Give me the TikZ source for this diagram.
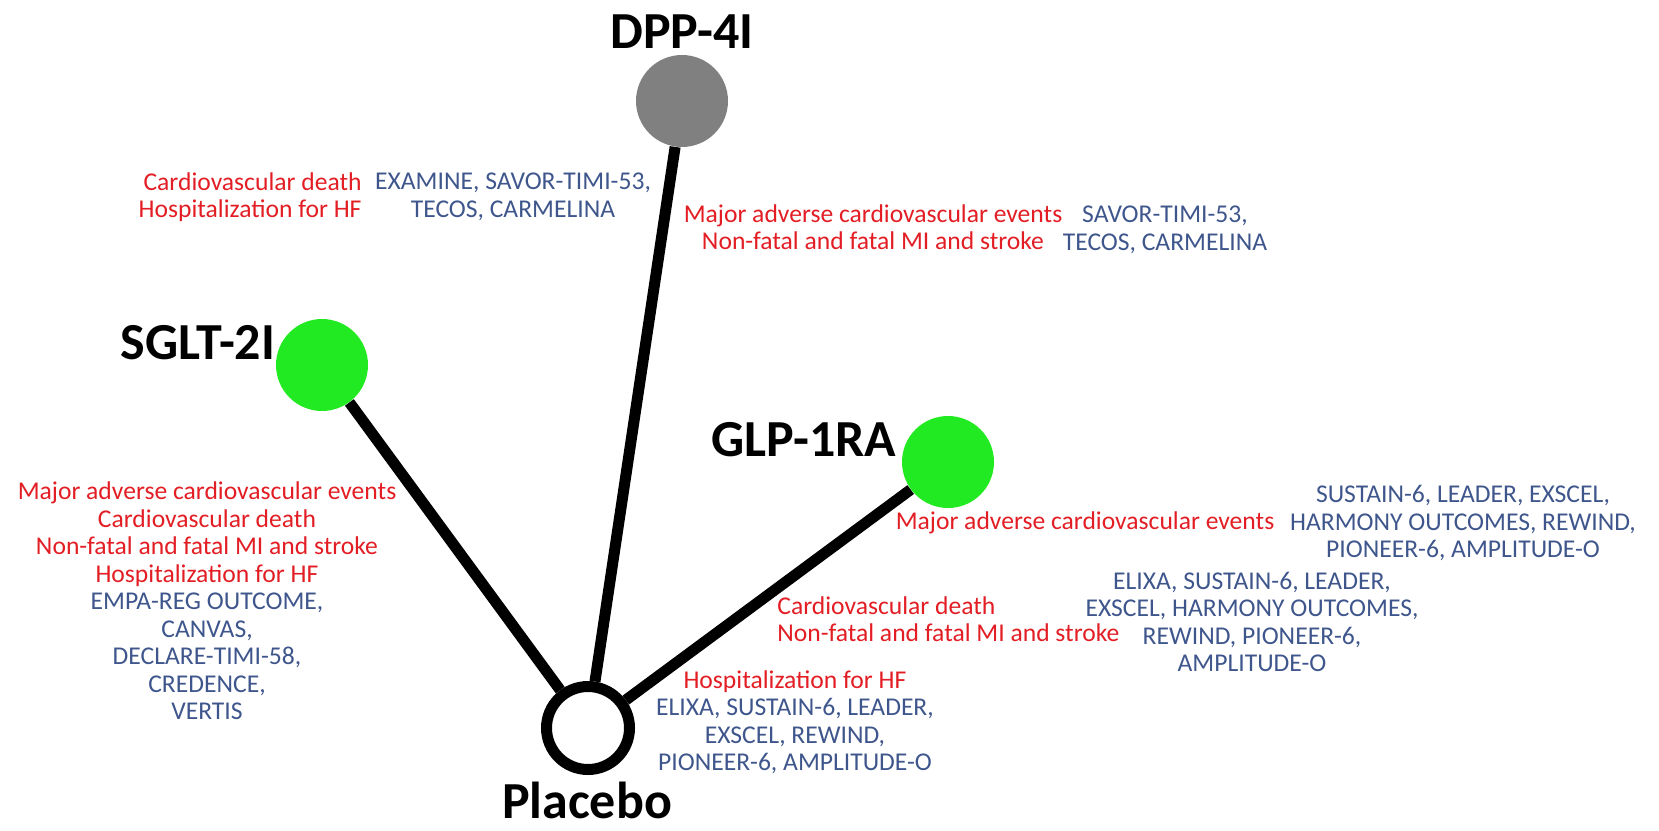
\documentclass[tikz,border=0pt]{standalone}
\usepackage{fontspec}
\setmainfont{Carlito}
\usepackage{xcolor}
\usetikzlibrary{positioning}

\definecolor{outcomered}{RGB}{226,30,36}
\definecolor{trialblue}{RGB}{62,86,140}
\definecolor{druggreen}{RGB}{34,234,34}
\definecolor{druggray}{RGB}{128,128,128}

\newcommand{\red}{\color{outcomered}}
\newcommand{\blue}{\color{trialblue}}

\begin{document}
\begin{tikzpicture}[
    x=0.5pt, y=-0.5pt,
    drug/.style={circle, minimum size=46pt, inner sep=0pt},
    drugname/.style={font=\fontsize{26}{30}\selectfont\bfseries, inner sep=0pt},
    outcome/.style={text=outcomered, font=\fontsize{12.8}{13.75}\selectfont, align=center, inner sep=0pt},
    trials/.style={text=trialblue, font=\fontsize{12.8}{13.75}\selectfont, align=center, inner sep=0pt},
    link/.style={line width=5.5pt}
]
\useasboundingbox (0,0) rectangle (1659,830);

% Treatments
\node[drug, fill=druggray] (dpp) at (682,101) {};
\node[drug, fill=druggreen] (sglt) at (322,365) {};
\node[drug, fill=druggreen] (glp) at (948,462) {};
\node[circle, draw, line width=5.5pt, fill=white, minimum size=41.5pt, inner sep=0pt] (placebo) at (588,728) {};

\node[drugname] (dppname) at (682,32) {DPP-4I};
\node[drugname] (sgltname) at (198,343) {SGLT-2I};
\node[drugname] (glpname) at (804,440) {GLP-1RA};
\node[drugname] (placeboname) at (587,800) {Placebo};

% Comparisons
\draw[link] (dpp) -- (placebo);
\draw[link] (sglt) -- (placebo);
\draw[link] (glp) -- (placebo);

% DPP-4I vs placebo
\node[outcome, align=right, anchor=east] (dppout1) at (362,197) {Cardiovascular death\\Hospitalization for HF};
\node[trials] (dpptrial1) at (513,197) {EXAMINE, SAVOR-TIMI-53,\\TECOS, CARMELINA};
\node[outcome] (dppout2) at (873,227) {Major adverse cardiovascular events\\Non-fatal and fatal MI and stroke};
\node[trials] (dpptrial2) at (1165,230) {SAVOR-TIMI-53,\\TECOS, CARMELINA};

% SGLT-2I vs placebo
\node[outcome] (sgltout) at (207,601) {Major adverse cardiovascular events\\Cardiovascular death\\Non-fatal and fatal MI and stroke\\Hospitalization for HF\\
    \blue EMPA-REG OUTCOME,\\\blue CANVAS,\\\blue DECLARE-TIMI-58,\\\blue CREDENCE,\\\blue VERTIS};

% GLP-1RA vs placebo
\node[outcome] (glpout1) at (1085,523) {Major adverse cardiovascular events};
\node[trials] (glptrial1) at (1463,523) {SUSTAIN-6, LEADER, EXSCEL,\\HARMONY OUTCOMES, REWIND,\\PIONEER-6, AMPLITUDE-O};
\node[outcome, align=left, anchor=west] (glpout2) at (777,619) {Cardiovascular death\\Non-fatal and fatal MI and stroke};
\node[trials] (glptrial2) at (1252,622) {ELIXA, SUSTAIN-6, LEADER,\\EXSCEL, HARMONY OUTCOMES,\\REWIND, PIONEER-6,\\AMPLITUDE-O};
\node[trials] (glpout3) at (795,722) {\red Hospitalization for HF\\
    ELIXA, SUSTAIN-6, LEADER,\\EXSCEL, REWIND,\\PIONEER-6, AMPLITUDE-O};
\end{tikzpicture}
\end{document}
